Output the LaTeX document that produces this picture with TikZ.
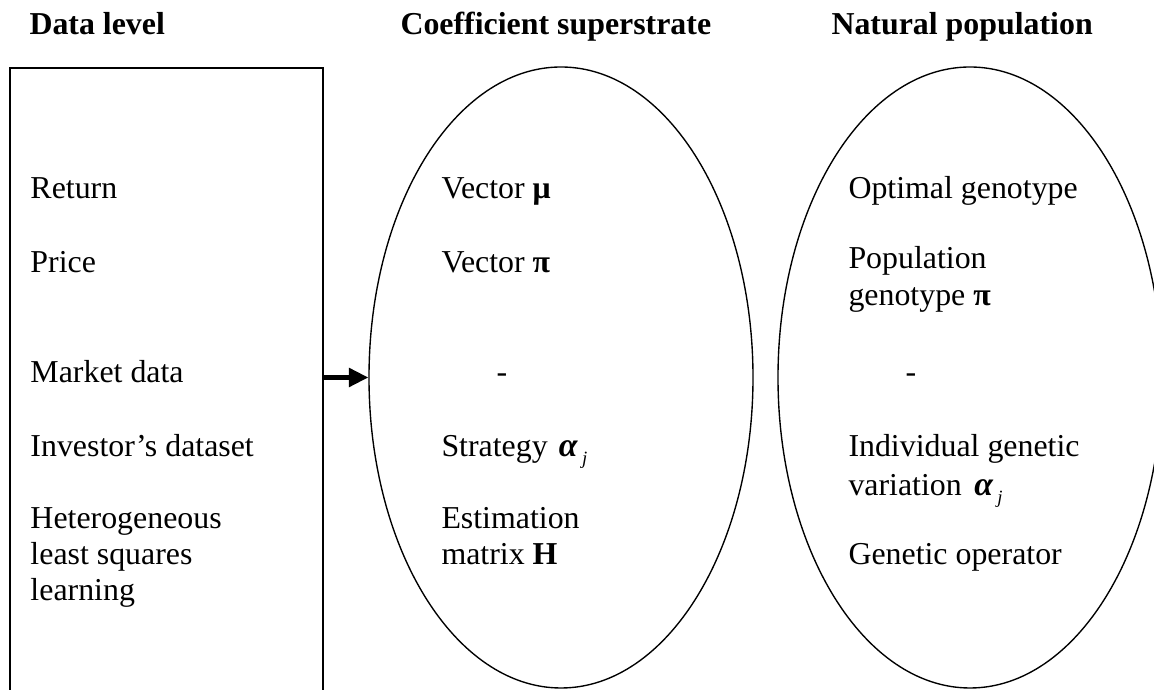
\documentclass[tikz,border=0pt]{standalone}
\usepackage{fontspec}
\setmainfont{Liberation Serif}
\usetikzlibrary{shapes.geometric,arrows.meta}
\newcommand{\balpha}{{\fontsize{13.5}{14}\selectfont\bfseries\itshape α}\raisebox{-3.2pt}{\fontsize{7.5}{7.5}\selectfont\itshape\hspace{1.8pt}j}}
\begin{document}
\begin{tikzpicture}[x=0.4pt,y=-0.4pt,
  lbl/.style={anchor=base west, inner sep=0pt, font=\fontsize{12.75}{14.2}\selectfont},
  hdr/.style={anchor=base west, inner sep=0pt, font=\fontsize{12.75}{14.2}\selectfont\bfseries},
  oval/.style={ellipse, draw, line width=0.55pt, minimum width=153.6pt, minimum height=248.4pt, inner sep=0pt},
  databox/.style={draw, line width=0.7pt, minimum width=125.2pt, minimum height=260pt, inner sep=0pt, anchor=north west},
  feed/.style={line width=1.7pt, -{Triangle[length=7.8pt,width=7.4pt]}}]
\useasboundingbox (0,0) rectangle (1154,690);
\clip (0,0) rectangle (1154,690);
% headers
\node[hdr] (h1) at (29,35) {Data level};
\node[hdr] (h2) at (400,35) {Coefficient superstrate};
\node[hdr] (h3) at (831,35) {Natural population};
% shapes
\node[databox] (data) at (9,67) {};
\node[oval] (coef) at (561,377.5) {};
\node[oval] (nat) at (970,377.5) {};
\draw[feed] (data.east |- coef.west) -- (coef.west);
% data level
\node[lbl] (d1) at (30,199) {Return};
\node[lbl] (d2) at (30,273) {Price};
\node[lbl] (d3) at (30,383) {Market data};
\node[lbl] (d4) at (30,457) {Investor’s dataset};
\node[lbl] (d5) at (30,529) {Heterogeneous};
\node[lbl] (d6) at (30,565) {least squares};
\node[lbl] (d7) at (30,601) {learning};
% coefficient superstrate
\node[lbl] (c1) at (441,199) {Vector \textbf{μ}};
\node[lbl] (c2) at (441,273) {Vector \textbf{π}};
\node[lbl] (c3) at (496,383) {-};
\node[lbl] (c4) at (441,457) {Strategy\hspace{4.5pt}\balpha};
\node[lbl] (c5) at (441,529) {Estimation};
\node[lbl] (c6) at (441,565) {matrix \textbf{H}};
% natural population
\node[lbl] (n1) at (848,199) {Optimal genotype};
\node[lbl] (n2) at (848,269) {Population};
\node[lbl] (n3) at (848,306) {genotype \textbf{π}};
\node[lbl] (n4) at (905,383) {-};
\node[lbl] (n5) at (848,457) {Individual genetic};
\node[lbl] (n6) at (848,496) {variation\hspace{5pt}\balpha};
\node[lbl] (n7) at (848,565) {Genetic operator};
\end{tikzpicture}
\end{document}
